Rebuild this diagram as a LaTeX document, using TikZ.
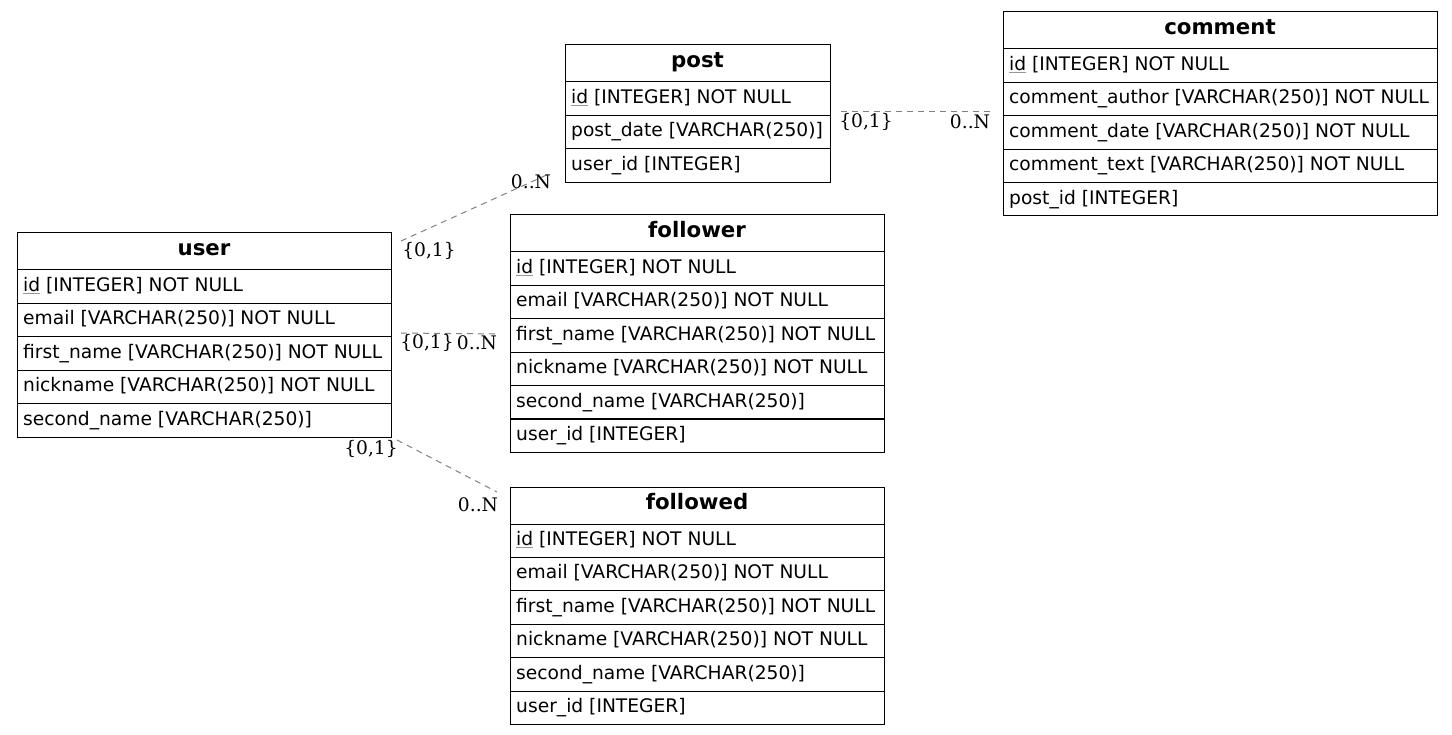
\documentclass[tikz,border=0pt]{standalone}
\usepackage{fontspec}
\setmainfont{DejaVu Sans}
\newfontfamily\lblfont{DejaVu Serif}
\usetikzlibrary{calc}
\definecolor{conn}{RGB}{128,128,128}
\definecolor{pkline}{RGB}{150,150,150}
\newcommand\pk[1]{\textcolor{pkline}{$\underline{\hbox{\color{black}#1}}$}}
\tikzset{
  tbox/.style={draw=black, line width=1pt, rectangle, inner sep=0pt, outer sep=0pt},
  rowline/.style={draw=black, line width=1pt},
  htext/.style={inner sep=0pt, anchor=base, font=\fontsize{21.3}{25}\selectfont\bfseries},
  rtext/.style={inner sep=0pt, anchor=base west, font=\fontsize{18.67}{22}\selectfont},
  card/.style={inner sep=0pt, font=\fontsize{18.67}{22}\selectfont\lblfont},
  rel/.style={draw=conn, line width=1pt, dash pattern=on 6pt off 5pt},
}
% #1 name, #2 x, #3 top y, #4 width, #5 rows, #6 title, #7 row list
\newcommand\ertable[7]{%
  \node[tbox, anchor=north west, minimum width=#4, minimum height={37+#5*33.4}] (#1) at (#2,#3) {};
  \node[htext] (#1-title) at ({#2+#4/2},{#3+22.5}) {#6};
  \foreach \r [count=\i from 0] in {#7} {
    \draw[rowline] ({#2},{#3+37+\i*33.4}) -- ++(#4,0);
    \node[rtext] (#1-r\i) at ({#2+6},{#3+37+\i*33.4+21.5}) {\r};
  }
}
\begin{document}
\begin{tikzpicture}[x=1pt,y=-1pt]
\useasboundingbox (0,0) rectangle (1452,735);
\ertable{post}{565}{45}{265}{3}{post}{{\pk{id} [INTEGER] NOT NULL},{post\_date [VARCHAR(250)]},{user\_id [INTEGER]}}
\ertable{comment}{1003}{12}{434}{5}{comment}{{\pk{id} [INTEGER] NOT NULL},{comment\_author [VARCHAR(250)] NOT NULL},{comment\_date [VARCHAR(250)] NOT NULL},{comment\_text [VARCHAR(250)] NOT NULL},{post\_id [INTEGER]}}
\ertable{user}{17}{233}{374}{5}{user}{{\pk{id} [INTEGER] NOT NULL},{email [VARCHAR(250)] NOT NULL},{first\_name [VARCHAR(250)] NOT NULL},{nickname [VARCHAR(250)] NOT NULL},{second\_name [VARCHAR(250)]}}
\ertable{follower}{510}{215}{374}{6}{follower}{{\pk{id} [INTEGER] NOT NULL},{email [VARCHAR(250)] NOT NULL},{first\_name [VARCHAR(250)] NOT NULL},{nickname [VARCHAR(250)] NOT NULL},{second\_name [VARCHAR(250)]},{user\_id [INTEGER]}}
\ertable{followed}{510}{487}{374}{6}{followed}{{\pk{id} [INTEGER] NOT NULL},{email [VARCHAR(250)] NOT NULL},{first\_name [VARCHAR(250)] NOT NULL},{nickname [VARCHAR(250)] NOT NULL},{second\_name [VARCHAR(250)]},{user\_id [INTEGER]}}

% connector end points
\coordinate (up-a) at (401,241);
\coordinate (up-b) at (551,173);
\coordinate (uf-a) at (401,333);
\coordinate (uf-b) at (497,334);
\coordinate (ud-a) at (397,440);
\coordinate (ud-b) at (497,492);
\coordinate (pc-a) at (841,112);
\coordinate (pc-b) at (992,112);

\draw[rel] (up-a) -- (up-b);
\draw[rel] (uf-a) -- (uf-b);
\draw[rel] (ud-a) -- (ud-b);
\draw[rel] (pc-a) -- (pc-b);

\node[card] (up-l1) at (429,251) {\{0,1\}};
\node[card] (up-l2) at (531,182) {0..N};
\node[card] (uf-l1) at (427,343) {\{0,1\}};
\node[card] (uf-l2) at (477,343) {0..N};
\node[card] (ud-l1) at (371,449) {\{0,1\}};
\node[card] (ud-l2) at (478,505) {0..N};
\node[card] (pc-l1) at (866,122) {\{0,1\}};
\node[card] (pc-l2) at (970,122) {0..N};
\end{tikzpicture}
\end{document}
